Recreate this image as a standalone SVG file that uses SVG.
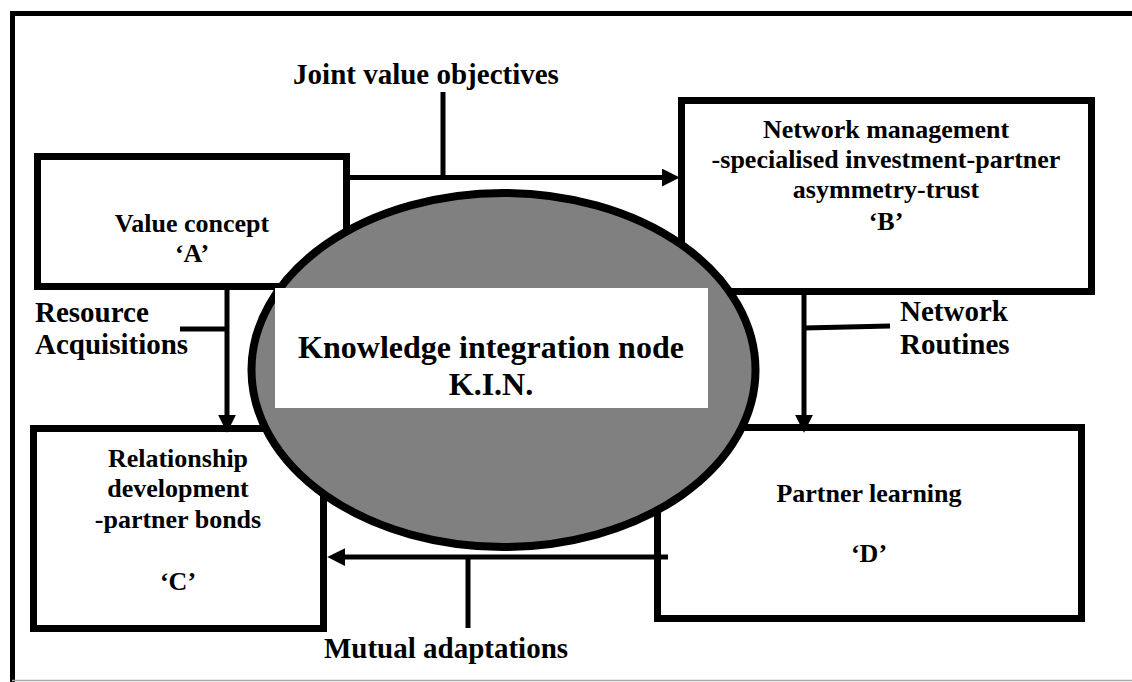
<svg xmlns="http://www.w3.org/2000/svg" width="1132" height="682" viewBox="0 0 1132 682">
  <style>
    text { font-family: 'Liberation Serif', 'DejaVu Serif', serif; font-weight: 700; fill: #000; }
    .box { fill: #fff; stroke: #000; stroke-width: 7; }
    .c { text-anchor: middle; }
    .f26 { font-size: 26px; }
    .f29 { font-size: 29px; }
    .f32 { font-size: 32px; }
    .wire { stroke: #000; stroke-width: 5; fill: none; }
    .arrow { marker-end: url(#head); }
  </style>
  <defs>
    <marker id="head" markerUnits="userSpaceOnUse" markerWidth="18" markerHeight="18" viewBox="0 0 16 16" refX="2" refY="8" orient="auto">
      <path d="M0,0 L16,8 L0,16 z" fill="#000"/>
    </marker>
  </defs>

  <rect width="1132" height="682" fill="#fff"/>

  <!-- outer frame -->
  <g id="frame">
    <line x1="10" y1="13.5" x2="1132" y2="13.5" stroke="#000" stroke-width="5"/>
    <line x1="12.5" y1="11" x2="12.5" y2="682" stroke="#000" stroke-width="5"/>
    <line x1="12" y1="680.5" x2="1132" y2="680.5" stroke="#aaa" stroke-width="1.5"/>
  </g>

  <!-- free labels -->
  <g id="labels">
    <text class="f29 c" x="426" y="84">Joint value objectives</text>
    <text class="f29" x="35" y="322">Resource</text>
    <text class="f29" x="35" y="354">Acquisitions</text>
    <text class="f29" x="900" y="321">Network</text>
    <text class="f29" x="900" y="354">Routines</text>
    <text class="f29 c" x="446" y="658">Mutual adaptations</text>
  </g>

  <g id="node-a">
    <rect class="box" x="37.5" y="156.5" width="309" height="130"/>
    <text class="f26 c" x="192" y="232">Value concept</text>
    <text class="f26 c" x="192" y="262">‘A’</text>
  </g>

  <g id="node-b">
    <rect class="box" x="681.5" y="100.5" width="410" height="191"/>
    <text class="f26 c" x="886" y="138">Network management</text>
    <text class="f26 c" x="886" y="168">-specialised investment-partner</text>
    <text class="f26 c" x="886" y="198">asymmetry-trust</text>
    <text class="f26 c" x="886" y="230">‘B’</text>
  </g>

  <g id="node-c">
    <rect class="box" x="33.5" y="428.5" width="290" height="200"/>
    <text class="f26 c" x="178" y="467">Relationship</text>
    <text class="f26 c" x="178" y="497">development</text>
    <text class="f26 c" x="178" y="528">-partner bonds</text>
    <text class="f26 c" x="178" y="590">‘C’</text>
  </g>

  <g id="node-d">
    <rect class="box" x="657.5" y="427.5" width="424" height="191"/>
    <text class="f26 c" x="869" y="502">Partner learning</text>
    <text class="f26 c" x="869" y="562">‘D’</text>
  </g>

  <g id="node-kin">
    <ellipse cx="503.5" cy="370" rx="252" ry="177" fill="#808080" stroke="#000" stroke-width="8"/>
    <rect x="275" y="288" width="433" height="120" fill="#fff"/>
    <text class="f32 c" x="491" y="358">Knowledge integration node</text>
    <text class="f32 c" x="491" y="395">K.I.N.</text>
  </g>

  <g id="connectors">
    <!-- A to B, with label tick -->
    <line class="wire arrow" x1="347" y1="177.5" x2="664" y2="177.5"/>
    <line class="wire" x1="443" y1="92" x2="443" y2="177"/>
    <!-- A to C, with label tick -->
    <line class="wire arrow" x1="227" y1="290" x2="227" y2="417"/>
    <line class="wire" x1="180" y1="329" x2="227" y2="329"/>
    <!-- B to D, with label tick -->
    <line class="wire arrow" x1="804" y1="295" x2="804" y2="417"/>
    <line class="wire" x1="804" y1="328" x2="890" y2="326"/>
    <!-- D to C, with label tick -->
    <line class="wire arrow" x1="668" y1="557" x2="343" y2="557"/>
    <line class="wire" x1="468" y1="557" x2="468" y2="628"/>
  </g>
</svg>
